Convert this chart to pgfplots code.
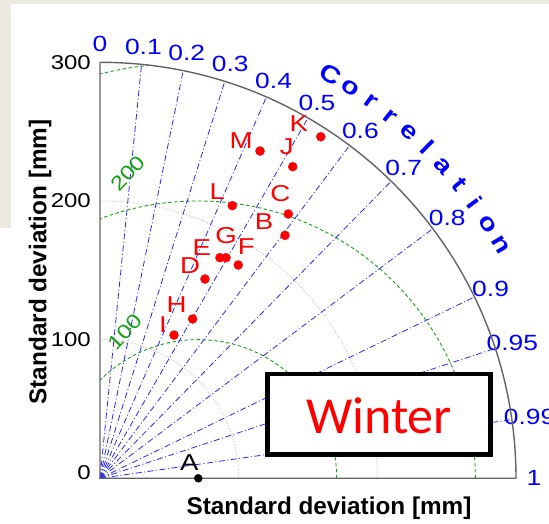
\documentclass[border=0pt]{standalone}
\usepackage{pgfplots}
\pgfplotsset{compat=1.18}
\usepackage{pgfplotstable}
\usepackage{fontspec}
\setmainfont{Liberation Sans}
\newfontfamily\mfont[FakeStretch=1.2]{Liberation Sans}
\newfontfamily\wfont{Carlito}
\definecolor{beige}{RGB}{236,234,224}
\definecolor{tgreen}{RGB}{20,160,20}
\definecolor{axgray}{RGB}{100,100,100}

\pgfplotstableread{
lab x y dx dy
K 159.2 246.3 -22 13
M 115.4 236.0 -19 10
J 139.0 224.7 -6 20
L 95.4 196.6 -15 14
C 135.8 190.6 -8 20
B 133.4 175.2 -21 14
E 86.5 159.1 -18 10
G 90.9 159.1 0 22
F 99.7 153.8 8 18
D 75.7 143.7 -15 13
H 66.8 114.9 -16 14
I 53.4 103.3 -11 10
}\pts

\pgfplotstableread{
lab x y dx dy
A 70.9 0 -9 16
}\refpt

\begin{document}
\begin{tikzpicture}
\path[use as bounding box] (-100pt,-45.7pt) rectangle (449pt,478.3pt);
\fill[beige] (-100pt,250.3pt) rectangle (-89pt,478.3pt);
\fill[beige] (-100pt,474.3pt) rectangle (449pt,478.3pt);
% std dev dotted arcs
\foreach \r in {138.67,277.33}
  \draw[gray!60, dotted, line width=0.8pt] (\r pt,0) arc[start angle=0,end angle=90,radius=\r pt];
% RMS circles
\begin{scope}
\clip (0,0) -- (416pt,0) arc[start angle=0,end angle=90,radius=416pt] -- cycle;
\foreach \r in {138.67,277.33,416}
  \draw[tgreen, dash pattern=on 3.5pt off 2.5pt, line width=0.9pt] (98.04pt,0) circle[radius=\r pt];
\end{scope}
% correlation lines
\foreach \c in {0.1,0.2,0.3,0.4,0.5,0.6,0.7,0.8,0.9,0.95,0.99}
  \draw[blue!85, dash pattern=on 6pt off 2.5pt on 1pt off 2.5pt, line width=0.8pt] (0,0) -- ({acos(\c)}:416pt);
% correlation labels
\foreach \c in {0,0.1,0.2,0.3,0.4,0.5,0.6,0.7,0.8,0.9,0.95,0.99,1}
  \node[blue, inner sep=0pt, font=\mfont\fontsize{22}{25}\selectfont] at ({acos(\c)}:434pt) {\c};
% Correlation title
\foreach \ch [count=\k from 0] in {C,o,r,r,e,l,a,t,i,o,n}{
  \pgfmathsetmacro\ang{60.3-3.0*\k}
  \node[blue, anchor=base, inner sep=0pt, rotate=\ang-90, font=\mfont\bfseries\fontsize{24}{27}\selectfont] at (\ang:457pt) {\ch};
}
% frame
\draw[axgray, line width=1.4pt] (0,416pt) -- (0,0) -- (416pt,0) arc[start angle=0,end angle=90,radius=416pt];
% y tick labels
\foreach \v/\yy in {0/6,100/138.67,200/277.33,300/416}
  \node[anchor=east, inner sep=0pt, font=\mfont\fontsize{20}{24}\selectfont] at (-9pt,\yy pt) {\v};
% RMS labels
\node[tgreen, rotate=47, inner sep=0pt, font=\mfont\fontsize{20}{24}\selectfont] at (28.3pt,305pt) {200};
\node[tgreen, rotate=47, inner sep=0pt, font=\mfont\fontsize{20}{24}\selectfont] at (25pt,146.6pt) {100};

\begin{axis}[x=1.38667pt, y=1.38667pt, xmin=0, xmax=300, ymin=0, ymax=300,
  enlargelimits=false, hide axis, clip=false, anchor=origin, at={(0pt,0pt)}]
\addplot[only marks, mark=*, mark size=4.5pt, red,
  point meta=explicit symbolic,
  visualization depends on={\thisrow{dx}\as\ldx},
  visualization depends on={\thisrow{dy}\as\ldy},
  nodes near coords,
  nodes near coords style={anchor=center, inner sep=0pt, xshift={\ldx*1pt}, yshift={\ldy*1pt}, text=red, font=\mfont\fontsize{23}{26}\selectfont}]
  table[x=x, y=y, meta=lab]{\pts};
\addplot[only marks, mark=*, mark size=4pt, black,
  point meta=explicit symbolic,
  visualization depends on={\thisrow{dx}\as\ldx},
  visualization depends on={\thisrow{dy}\as\ldy},
  nodes near coords,
  nodes near coords style={anchor=center, inner sep=0pt, xshift={\ldx*1pt}, yshift={\ldy*1pt}, text=black, font=\mfont\fontsize{23}{26}\selectfont}]
  table[x=x, y=y, meta=lab]{\refpt};
\end{axis}

% Winter box
\draw[line width=4.5pt, fill=white] (167.5pt,23.8pt) rectangle (390.5pt,104.3pt);
\node[red, inner sep=0pt, font=\wfont\fontsize{52}{60}\selectfont] at (279pt,62.8pt) {Winter};
% axis labels
\node[font=\bfseries\fontsize{24.3}{28}\selectfont] at (229pt,-29.7pt) {Standard deviation [mm]};
\node[rotate=90, font=\bfseries\fontsize{24.3}{28}\selectfont] at (-60pt,216.3pt) {Standard deviation [mm]};
\end{tikzpicture}
\end{document}
